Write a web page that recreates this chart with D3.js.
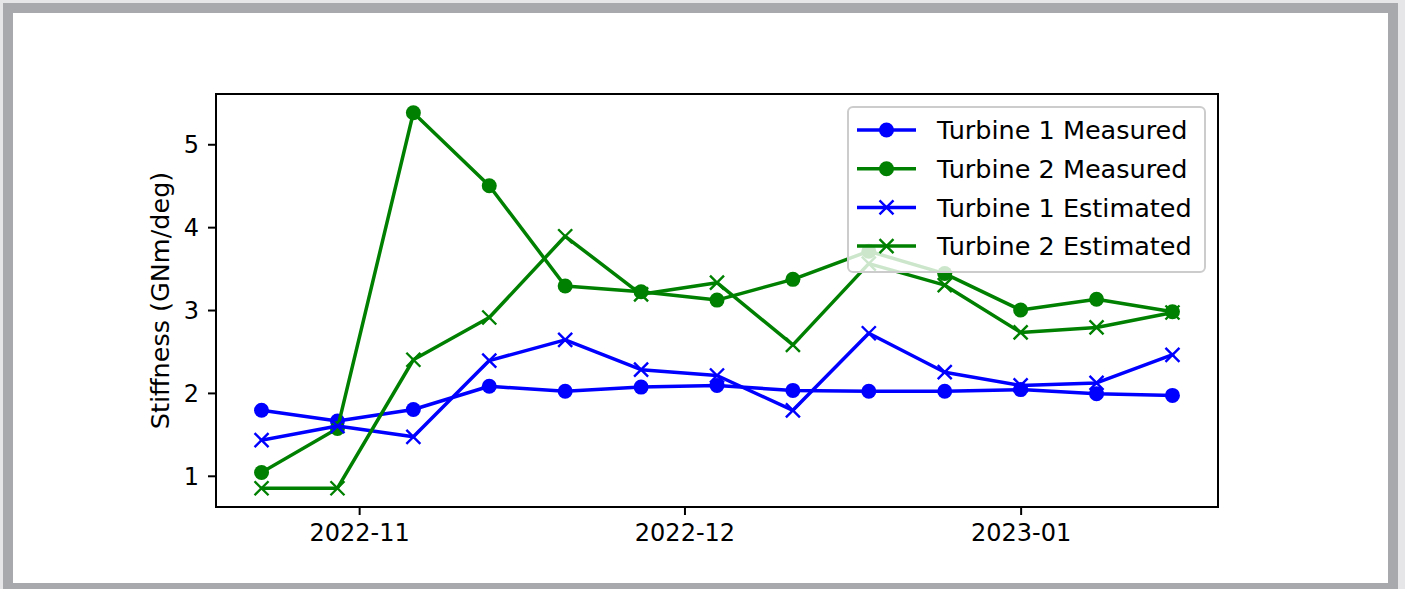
<!DOCTYPE html>
<html>
<head>
<meta charset="utf-8">
<script src="https://cdn.jsdelivr.net/npm/d3@7"></script>
<style>
  html, body { margin: 0; padding: 0; background: #e6e6e8; overflow: hidden; }
  #frame { position: absolute; left: 3px; top: 3px; width: 1375px; height: 570px;
           border: 10px solid #a8a9ac; background: #ffffff; }
  svg { position: absolute; left: 0; top: 0; }
  text { font-family: "DejaVu Sans", sans-serif; fill: #000; }
</style>
</head>
<body>
<div id="frame"></div>
<svg id="chart" width="1405" height="589"></svg>
<script>
// ---- data ----
const dates = ["2022-10-23","2022-10-30","2022-11-06","2022-11-13","2022-11-20","2022-11-27",
               "2022-12-04","2022-12-11","2022-12-18","2022-12-25","2023-01-01","2023-01-08","2023-01-15"];
const turbine1Measured  = [1.79, 1.66, 1.80, 2.08, 2.02, 2.07, 2.09, 2.03, 2.02, 2.02, 2.04, 1.99, 1.97];
const turbine2Measured  = [1.04, 1.57, 5.38, 4.50, 3.29, 3.22, 3.12, 3.37, 3.71, 3.44, 3.00, 3.13, 2.98];
const turbine1Estimated = [1.43, 1.60, 1.47, 2.39, 2.64, 2.28, 2.21, 1.79, 2.72, 2.25, 2.09, 2.12, 2.46];
const turbine2Estimated = [0.85, 0.85, 2.40, 2.91, 3.89, 3.19, 3.33, 2.58, 3.56, 3.30, 2.73, 2.79, 2.97];
const seriesNames = ["Turbine 1 Measured", "Turbine 2 Measured", "Turbine 1 Estimated", "Turbine 2 Estimated"];
const xTickDates  = ["2022-11-01", "2022-12-01", "2023-01-01"];
const xTickLabels = ["2022-11", "2022-12", "2023-01"];
const yTicks = [1, 2, 3, 4, 5];
const yLabel = "Stiffness (GNm/deg)";

// ---- build ----
const parse = d3.timeParse("%Y-%m-%d");
const xs = dates.map(parse);
const series = [
  { name: seriesNames[0], values: turbine1Measured,  color: "#0000ff", marker: "o" },
  { name: seriesNames[1], values: turbine2Measured,  color: "#008000", marker: "o" },
  { name: seriesNames[2], values: turbine1Estimated, color: "#0000ff", marker: "x" },
  { name: seriesNames[3], values: turbine2Estimated, color: "#008000", marker: "x" }
];

const svg = d3.select("#chart");
const L = 216, R = 1218, T = 94, B = 507;

const xExt = d3.extent(xs);
const xPad = (xExt[1] - xExt[0]) * 0.05;
const x = d3.scaleTime()
  .domain([new Date(+xExt[0] - xPad), new Date(+xExt[1] + xPad)])
  .range([L, R]);

const allY = series.flatMap(s => s.values);
const yMin = d3.min(allY), yMax = d3.max(allY);
const yPad = (yMax - yMin) * 0.05;
const y = d3.scaleLinear().domain([yMin - yPad, yMax + yPad]).range([B, T]);

// axes
const xAxis = d3.axisBottom(x)
  .tickValues(xTickDates.map(parse))
  .tickFormat((d, i) => xTickLabels[i])
  .tickSize(8).tickPadding(9).tickSizeOuter(0);
const gx = svg.append("g").attr("transform", `translate(0,${B})`).call(xAxis);
gx.select(".domain").remove();
gx.selectAll(".tick line").attr("stroke", "#000").attr("stroke-width", 2);
gx.selectAll(".tick text").attr("font-size", 24).attr("font-family", "DejaVu Sans").attr("dy", "0.72em");

const yAxis = d3.axisLeft(y).tickValues(yTicks).tickFormat(d3.format("d"))
  .tickSize(8).tickPadding(9).tickSizeOuter(0);
const gy = svg.append("g").attr("transform", `translate(${L},0)`).call(yAxis);
gy.select(".domain").remove();
gy.selectAll(".tick line").attr("stroke", "#000").attr("stroke-width", 2);
gy.selectAll(".tick text").attr("font-size", 24).attr("font-family", "DejaVu Sans").attr("dy", "0.36em");

svg.append("text")
  .attr("transform", `translate(169,${(T + B) / 2}) rotate(-90)`)
  .attr("text-anchor", "middle")
  .attr("font-size", 25.5)
  .text(yLabel);

const plot = svg.append("g");
const line = d3.line().x((d, i) => x(xs[i])).y(d => y(d));

function drawMarker(g, type, color, cx, cy) {
  if (type === "o") {
    g.append("circle").attr("cx", cx).attr("cy", cy).attr("r", 7.5).attr("fill", color);
  } else {
    const s = 7;
    g.append("path")
      .attr("d", `M${cx - s},${cy - s}L${cx + s},${cy + s}M${cx - s},${cy + s}L${cx + s},${cy - s}`)
      .attr("stroke", color).attr("stroke-width", 2.4).attr("fill", "none");
  }
}

series.forEach(s => {
  const g = plot.append("g");
  g.append("path").datum(s.values).attr("d", line)
    .attr("fill", "none").attr("stroke", s.color).attr("stroke-width", 3.5)
    .attr("stroke-linejoin", "round").attr("stroke-linecap", "square");
  s.values.forEach((v, i) => drawMarker(g, s.marker, s.color, x(xs[i]), y(v)));
});

// frame spines
svg.append("rect").attr("x", L).attr("y", T).attr("width", R - L).attr("height", B - T)
  .attr("fill", "none").attr("stroke", "#000").attr("stroke-width", 2);

// legend
const lg = svg.append("g");
lg.append("rect").attr("x", 848).attr("y", 107).attr("width", 357).attr("height", 165)
  .attr("rx", 5).attr("fill", "#fff").attr("fill-opacity", 0.8)
  .attr("stroke", "#cccccc").attr("stroke-width", 2);
series.forEach((s, i) => {
  const cy = 130 + i * 38.7;
  lg.append("line").attr("x1", 857).attr("x2", 916).attr("y1", cy).attr("y2", cy)
    .attr("stroke", s.color).attr("stroke-width", 3.5);
  drawMarker(lg, s.marker, s.color, 886.5, cy);
  lg.append("text").attr("x", 937).attr("y", cy).attr("dy", "0.36em")
    .attr("font-size", 25.5).text(s.name);
});
</script>
</body>
</html>
